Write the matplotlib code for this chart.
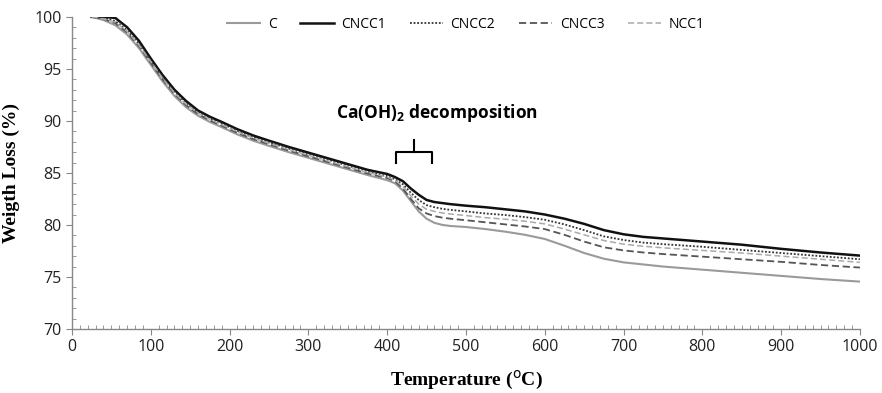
import matplotlib
matplotlib.use("Agg")
import matplotlib.pyplot as plt
from matplotlib.ticker import MultipleLocator

temperature = [25, 40, 55, 70, 85, 100, 115, 130, 145, 160, 175, 190, 210, 230, 250, 275, 300,
               325, 350, 375, 400, 410, 420, 430, 440, 450, 460, 470, 480, 500, 525, 550, 575,
               600, 625, 650, 675, 700, 725, 750, 800, 850, 900, 950, 1000]

w_C = [100, 99.7, 99.2, 98.3, 97.0, 95.4, 93.8, 92.4, 91.3, 90.5, 89.9, 89.4, 88.7, 88.1, 87.6,
       87.0, 86.45, 85.9, 85.35, 84.8, 84.3, 84.0, 83.3, 82.3, 81.3, 80.6, 80.2, 80.0, 79.9, 79.8,
       79.6, 79.35, 79.05, 78.65, 78.0, 77.3, 76.75, 76.4, 76.2, 76.0, 75.7, 75.4, 75.1, 74.8, 74.55]
w_CNCC1 = [100, 100, 99.9, 99.0, 97.7, 96.0, 94.4, 93.0, 91.9, 91.0, 90.4, 89.9, 89.2, 88.6, 88.1,
           87.5, 86.95, 86.4, 85.85, 85.3, 84.9, 84.6, 84.2, 83.5, 82.9, 82.4, 82.2, 82.1, 82.0,
           81.85, 81.7, 81.5, 81.3, 81.0, 80.6, 80.1, 79.5, 79.1, 78.85, 78.7, 78.4, 78.1, 77.7,
           77.35, 77.05]
w_CNCC2 = [100, 99.9, 99.6, 98.7, 97.4, 95.8, 94.2, 92.8, 91.7, 90.85, 90.25, 89.75, 89.05, 88.45,
           87.95, 87.35, 86.8, 86.25, 85.7, 85.15, 84.7, 84.4, 83.9, 83.1, 82.4, 81.9, 81.7, 81.55,
           81.45, 81.3, 81.1, 80.95, 80.75, 80.5, 80.05, 79.5, 78.9, 78.55, 78.3, 78.15, 77.9,
           77.6, 77.3, 77.0, 76.7]
w_CNCC3 = [100, 99.8, 99.4, 98.5, 97.2, 95.6, 94.0, 92.6, 91.5, 90.65, 90.05, 89.55, 88.85, 88.25,
           87.75, 87.15, 86.6, 86.05, 85.5, 84.95, 84.5, 84.2, 83.5, 82.5, 81.6, 81.1, 80.85, 80.7,
           80.6, 80.45, 80.25, 80.05, 79.85, 79.6, 79.05, 78.4, 77.85, 77.55, 77.35, 77.2, 76.95,
           76.7, 76.45, 76.15, 75.9]
w_NCC1 = [100, 99.8, 99.5, 98.6, 97.3, 95.7, 94.1, 92.7, 91.6, 90.75, 90.15, 89.65, 88.95, 88.35,
          87.85, 87.25, 86.7, 86.15, 85.6, 85.05, 84.6, 84.3, 83.7, 82.8, 82.0, 81.5, 81.3, 81.15,
          81.05, 80.9, 80.7, 80.55, 80.35, 80.1, 79.6, 79.05, 78.5, 78.15, 77.95, 77.8, 77.55,
          77.3, 77.0, 76.7, 76.4]

series = [
    ("C", w_C, dict(color="#9a9a9a", lw=1.5, ls="-")),
    ("CNCC1", w_CNCC1, dict(color="#111111", lw=1.8, ls="-")),
    ("CNCC2", w_CNCC2, dict(color="#333333", lw=1.3, ls=(0, (1, 1)))),
    ("CNCC3", w_CNCC3, dict(color="#555555", lw=1.3, ls=(0, (4, 2)))),
    ("NCC1", w_NCC1, dict(color="#aaaaaa", lw=1.1, ls=(0, (4, 2)))),
]

fig = plt.figure(figsize=(8.82, 3.93), dpi=100)
ax = fig.add_axes([0.0816, 0.163, 0.8934, 0.794])

for name, vals, st in series:
    ax.plot(temperature, vals, label=name, solid_joinstyle="round", **st)

ax.set_xlim(0, 1000)
ax.set_ylim(70, 100)
ax.xaxis.set_major_locator(MultipleLocator(100))
ax.xaxis.set_minor_locator(MultipleLocator(10))
ax.yaxis.set_major_locator(MultipleLocator(5))
ax.yaxis.set_minor_locator(MultipleLocator(1))

for s in ["top", "right"]:
    ax.spines[s].set_visible(False)
for s in ["left", "bottom"]:
    ax.spines[s].set_color("#888888")
    ax.spines[s].set_linewidth(1.0)

ax.tick_params(which="major", direction="out", length=4, color="#888888",
               labelsize=11.5, labelcolor="#222222")
ax.tick_params(which="minor", direction="in", length=3, color="#888888")
for lab in ax.get_xticklabels() + ax.get_yticklabels():
    lab.set_family("Open Sans")

ax.set_xlabel("Temperature ($^{\\mathrm{o}}$C)", family="Liberation Serif",
              fontweight="bold", fontsize=14, labelpad=10)
ax.set_ylabel("Weigth Loss (%)", family="Liberation Serif",
              fontweight="bold", fontsize=14, labelpad=10)

leg = ax.legend(loc="upper center", bbox_to_anchor=(0.5, 1.04), ncol=5, frameon=False,
                handlelength=2.4, columnspacing=1.7, handletextpad=0.55,
                prop=dict(family="Open Sans", size=10))

ax.text(463, 90.8, "Ca(OH)$_\\mathregular{2}$ decomposition", ha="center", va="center",
        family="Open Sans", fontweight="bold", fontsize=12.5)

# brace
bx0, bx1, bm = 411, 457, 434
ax.plot([bx0, bx0, bx1, bx1], [86.0, 87.0, 87.0, 86.0], color="black", lw=1.5)
ax.plot([bm, bm], [87.0, 88.2], color="black", lw=1.5)

fig.savefig("out.png", dpi=100)
